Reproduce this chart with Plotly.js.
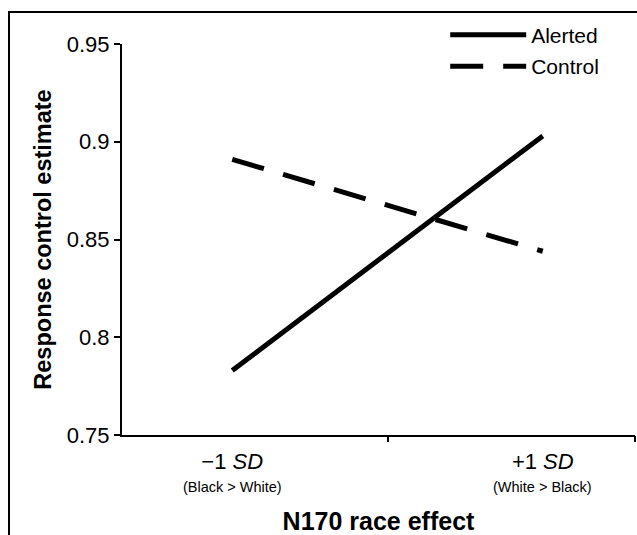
<!DOCTYPE html>
<html><head><meta charset="utf-8">
<script src="https://cdn.plot.ly/plotly-3.0.1.min.js"></script>
<style>
html,body{margin:0;padding:0;background:#fff;}
#wrap{position:relative;width:637px;height:535px;overflow:hidden;}
#chart{position:absolute;left:0;top:0;width:637px;height:535px;}
#frame{position:absolute;left:8px;top:11px;width:700px;height:600px;border-left:2px solid #000;border-top:2px solid #000;pointer-events:none;}
</style></head>
<body><div id="wrap"><div id="chart"></div><div id="frame"></div></div>
<script>
const categories = [0, 1];
const categoryLabels = ["−1 <i>SD</i>", "+1 <i>SD</i>"];
const categorySubLabels = ["(Black > White)", "(White > Black)"];
const alerted = [0.783, 0.903];
const control = [0.891, 0.844];
const yTicks = [0.75, 0.8, 0.85, 0.9, 0.95];
const yTickText = ["0.75", "0.8", "0.85", "0.9", "0.95"];

const font = "Liberation Sans, Arial, sans-serif";

const xr = [-0.355, 1.297];
const traces = [
  {x: categories, y: alerted, mode: "lines", name: "Alerted", legendgroup: "a",
   line: {color: "#000", width: 5}},
  {x: categories, y: control, mode: "lines", name: "Control", legendgroup: "b",
   line: {color: "#000", width: 5, dash: "33px,20px"}},
  {x: [0.5], y: [0.75], xaxis: "x2", mode: "none", showlegend: false, hoverinfo: "skip"}
];
const annotations = categories.map((c, i) => ({
  x: c, xref: "x", y: -0.132, yref: "paper", yanchor: "middle", xanchor: "center",
  text: categorySubLabels[i], showarrow: false, font: {family: font, size: 14.5, color: "#000"}
}));
const layout = {
  width: 637, height: 535,
  margin: {l: 122, r: 2, t: 44, b: 100},
  paper_bgcolor: "#fff", plot_bgcolor: "#fff",
  font: {family: font, color: "#000", size: 20},
  showlegend: true,
  legend: {x: 0.63, xanchor: "left", y: 1.075, yanchor: "top", bgcolor: "rgba(0,0,0,0)",
           font: {family: font, size: 21}, itemwidth: 76, traceorder: "grouped", tracegroupgap: 1},
  annotations: annotations,
  xaxis: {range: xr, tickmode: "array", tickvals: categories, ticktext: categoryLabels,
          ticks: "", showline: true, linecolor: "#000", linewidth: 2, showgrid: false, zeroline: false,
          tickfont: {family: font, size: 22}, ticklabelstandoff: 6,
          title: {text: "<b>N170 race effect</b>", font: {family: font, size: 25}, standoff: 40},
          automargin: false, fixedrange: true},
  xaxis2: {range: xr, overlaying: "x", anchor: "y", side: "bottom", tickmode: "array",
           tickvals: [0.5, 1.297], showticklabels: false, ticks: "outside", ticklen: 6,
           tickwidth: 2, tickcolor: "#000", showline: false, showgrid: false, zeroline: false},
  yaxis: {range: [0.75, 0.95], tickmode: "array", tickvals: yTicks, ticktext: yTickText,
          ticks: "outside", ticklen: 6, tickwidth: 2, tickcolor: "#000",
          showline: true, linecolor: "#000", linewidth: 2, showgrid: false, zeroline: false,
          tickfont: {family: font, size: 22},
          title: {text: "<b>Response control estimate</b>", font: {family: font, size: 23.5}, standoff: 9},
          automargin: false, fixedrange: true}
};
Plotly.newPlot("chart", traces, layout, {staticPlot: true, displayModeBar: false});
</script></body></html>
